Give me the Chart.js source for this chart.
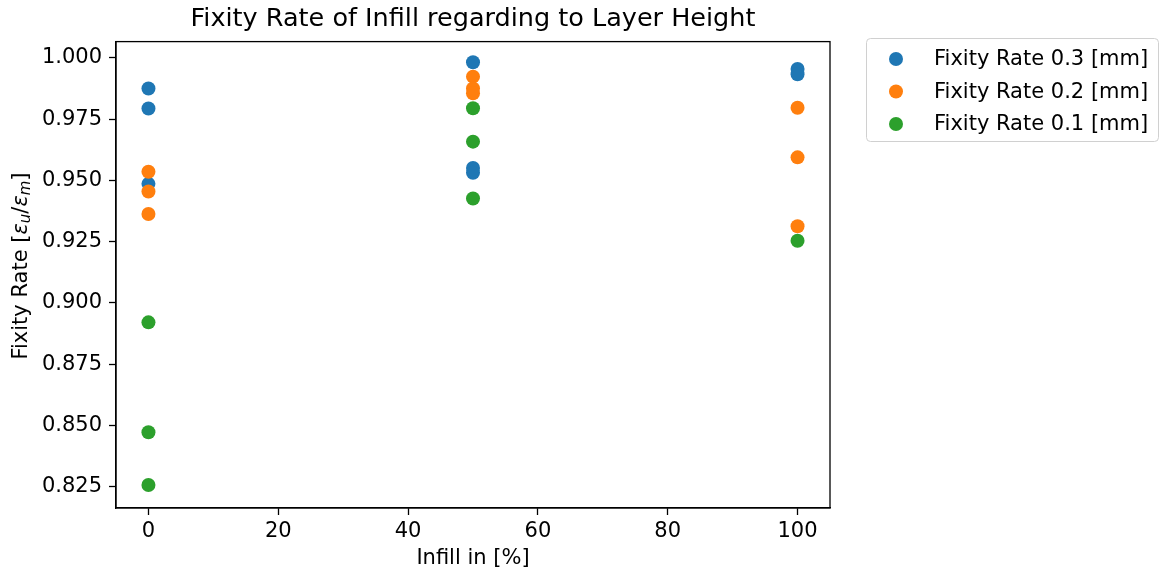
<!DOCTYPE html>
<html>
<head>
<meta charset="utf-8">
<script src="https://cdn.jsdelivr.net/npm/chart.js@4.4.1/dist/chart.umd.min.js"></script>
<style>
  body { margin: 0; background: #fff; }
</style>
</head>
<body>
<canvas id="chart" width="1161" height="576"></canvas>
<script>
const infill03 = [0, 0, 0, 50, 50, 50, 100, 100];
const fixity03 = [0.9875, 0.9793, 0.9486, 0.9982, 0.9551, 0.9531, 0.9954, 0.9933];

const infill02 = [0, 0, 0, 50, 50, 50, 100, 100, 100];
const fixity02 = [0.9535, 0.9455, 0.9363, 0.9923, 0.9875, 0.9855, 0.9796, 0.9594, 0.9313];

const infill01 = [0, 0, 0, 50, 50, 50, 100];
const fixity01 = [0.8921, 0.8473, 0.8258, 0.9794, 0.9658, 0.9426, 0.9254];

const seriesLabels = ["Fixity Rate 0.3 [mm]", "Fixity Rate 0.2 [mm]", "Fixity Rate 0.1 [mm]"];
const seriesColors = ["#1f77b4", "#ff7f0e", "#2ca02c"];

const xTicks = [0, 20, 40, 60, 80, 100];
const yTicks = [0.825, 0.85, 0.875, 0.9, 0.925, 0.95, 0.975, 1.0];

const FONT = "'DejaVu Sans', sans-serif";

const toPoints = (xs, ys) => xs.map((x, i) => ({ x: x, y: ys[i] }));

// box around the plot, y title with math, legend outside the axes
const extras = {
  id: "extras",
  afterDraw(chart) {
    const ctx = chart.ctx;
    const a = chart.chartArea;
    ctx.save();
    ctx.strokeStyle = "#000";
    ctx.lineWidth = 1.3;
    ctx.strokeRect(a.left, a.top, a.right - a.left, a.bottom - a.top);

    // y axis title: Fixity Rate [ε_u/ε_m]
    const parts = [
      { t: "Fixity Rate [", f: "21px " + FONT, dy: 0 },
      { t: "ε", f: "italic 21px " + FONT, dy: 0 },
      { t: "u", f: "italic 15px " + FONT, dy: 4 },
      { t: "/", f: "21px " + FONT, dy: 0 },
      { t: "ε", f: "italic 21px " + FONT, dy: 0 },
      { t: "m", f: "italic 15px " + FONT, dy: 4 },
      { t: "]", f: "21px " + FONT, dy: 0 },
    ];
    let total = 0;
    parts.forEach((p) => { ctx.font = p.f; p.w = ctx.measureText(p.t).width; total += p.w; });
    ctx.translate(22, 266);
    ctx.rotate(-Math.PI / 2);
    ctx.fillStyle = "#000";
    ctx.textBaseline = "middle";
    ctx.textAlign = "left";
    let x = -total / 2;
    parts.forEach((p) => { ctx.font = p.f; ctx.fillText(p.t, x, p.dy); x += p.w; });
    ctx.restore();

    // legend
    ctx.save();
    ctx.beginPath();
    ctx.roundRect(866.5, 38.5, 292, 103, 4);
    ctx.fillStyle = "rgba(255,255,255,0.8)";
    ctx.fill();
    ctx.strokeStyle = "#d0d0d0";
    ctx.lineWidth = 1;
    ctx.stroke();
    ctx.font = "21px " + FONT;
    ctx.textBaseline = "middle";
    ctx.textAlign = "left";
    chart.data.datasets.forEach((ds, i) => {
      const y = 59 + i * 32.5;
      ctx.beginPath();
      ctx.arc(896, y, 7, 0, Math.PI * 2);
      ctx.fillStyle = ds.backgroundColor;
      ctx.fill();
      ctx.fillStyle = "#000";
      ctx.fillText(ds.label, 934, y + 1);
    });
    ctx.restore();
  },
};

new Chart(document.getElementById("chart").getContext("2d"), {
  type: "scatter",
  data: {
    datasets: [
      { label: seriesLabels[0], data: toPoints(infill03, fixity03), backgroundColor: seriesColors[0], order: 3 },
      { label: seriesLabels[1], data: toPoints(infill02, fixity02), backgroundColor: seriesColors[1], order: 2 },
      { label: seriesLabels[2], data: toPoints(infill01, fixity01), backgroundColor: seriesColors[2], order: 1 },
    ],
  },
  options: {
    responsive: false,
    animation: false,
    devicePixelRatio: 1,
    elements: {
      point: { radius: 7, borderWidth: 0, hoverRadius: 7 },
    },
    layout: {
      padding: { left: 0, right: 331, top: 0, bottom: 0 },
    },
    scales: {
      x: {
        type: "linear",
        min: -5,
        max: 105,
        afterBuildTicks: (scale) => { scale.ticks = xTicks.map((v) => ({ value: v })); },
        afterFit: (scale) => { scale.height = 68; },
        grid: { drawOnChartArea: false, drawTicks: true, tickLength: 7, tickColor: "#000", tickWidth: 1.3 },
        border: { display: true, color: "#000", width: 1.3 },
        ticks: { color: "#000", padding: 4, font: { family: FONT, size: 21 }, maxRotation: 0 },
        title: { display: true, text: "Infill in [%]", color: "#000", font: { family: FONT, size: 21 }, padding: { top: 0, bottom: 5 } },
      },
      y: {
        type: "linear",
        min: 0.8164,
        max: 1.0066,
        afterBuildTicks: (scale) => { scale.ticks = yTicks.map((v) => ({ value: v })); },
        afterFit: (scale) => { scale.width = 116; },
        grid: { drawOnChartArea: false, drawTicks: true, tickLength: 7, tickColor: "#000", tickWidth: 1.3 },
        border: { display: true, color: "#000", width: 1.3 },
        ticks: {
          color: "#000",
          padding: 7,
          font: { family: FONT, size: 21 },
          callback: (value) => value.toFixed(3),
        },
      },
    },
    plugins: {
      legend: { display: false },
      tooltip: { enabled: false },
      title: {
        display: true,
        fullSize: false,
        text: "Fixity Rate of Infill regarding to Layer Height",
        color: "#000",
        font: { family: FONT, size: 25.5, weight: "normal" },
        padding: { top: 4, bottom: 7 },
      },
    },
  },
  plugins: [extras],
});
</script>
</body>
</html>
